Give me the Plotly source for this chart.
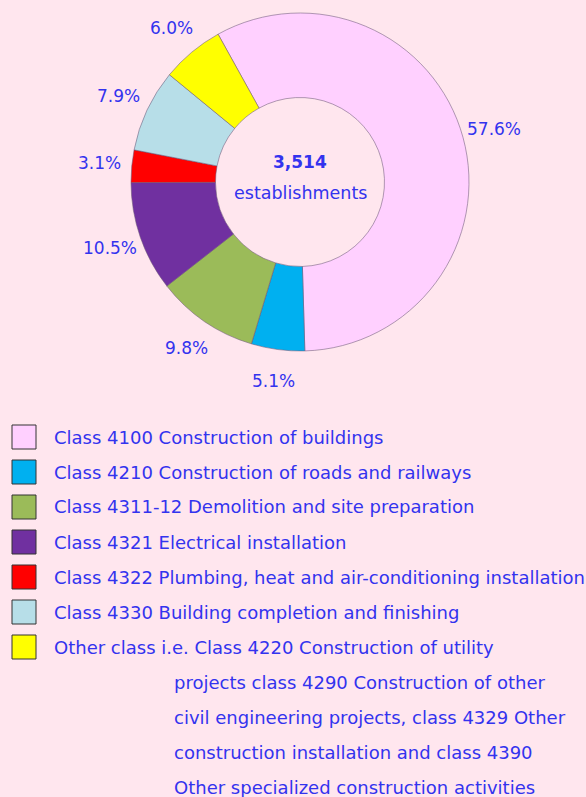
import math
import plotly.graph_objects as go

categories = [
    "Class 4100 Construction of buildings",
    "Class 4210 Construction of roads and railways",
    "Class 4311-12 Demolition and site preparation",
    "Class 4321 Electrical installation",
    "Class 4322 Plumbing, heat and air-conditioning installation",
    "Class 4330 Building completion and finishing",
    "Other class",
]
shares = [57.6, 5.1, 9.8, 10.5, 3.1, 7.9, 6.0]
colors = ["#FFD0FF", "#00B0F0", "#9BBB59", "#7030A0", "#FF0000", "#B7DEE8", "#FFFF00"]
total_text = ["3,514", "establishments"]
legend_lines = [
    ["Class 4100 Construction of buildings"],
    ["Class 4210 Construction of roads and railways"],
    ["Class 4311-12 Demolition and site preparation"],
    ["Class 4321 Electrical installation"],
    ["Class 4322 Plumbing, heat and air-conditioning installation"],
    ["Class 4330 Building completion and finishing"],
    ["Other class i.e. Class 4220 Construction of utility",
     "projects class 4290 Construction of other",
     "civil engineering projects, class 4329 Other",
     "construction installation and class 4390",
     "Other specialized construction activities"],
]

W, H = 586, 797
BG = "#FFE6EE"
TXT = "#3333EE"
FONT = "DejaVu Sans"
ROT = -29
CX, CY, R = 300, 182, 169

fig = go.Figure()
fig.add_trace(go.Pie(
    labels=categories,
    values=shares,
    hole=0.5,
    sort=False,
    direction="clockwise",
    rotation=ROT,
    marker=dict(colors=colors, line=dict(color="rgba(110,90,120,0.55)", width=1)),
    textinfo="none",
    showlegend=False,
    hoverinfo="label+value",
    domain=dict(x=[(CX - R) / W, (CX + R) / W], y=[1 - (CY + R) / H, 1 - (CY - R) / H]),
))

ann = []
# percentage labels placed radially outside each slice
total = sum(shares)
cum = 0.0
for v in shares:
    mid = ROT + (cum + v / 2) / total * 360.0
    cum += v
    a = math.radians(mid)
    rr = R + 32
    x = CX + rr * math.sin(a)
    y = CY - rr * math.cos(a)
    ann.append(dict(x=x / W, y=1 - y / H, xref="paper", yref="paper",
                    text=f"{v:.1f}%", showarrow=False, xanchor="center", yanchor="middle",
                    font=dict(color=TXT, size=17, family=FONT)))

ann.append(dict(x=CX / W, y=1 - 162 / H, xref="paper", yref="paper",
                text="<b>" + total_text[0] + "</b>", showarrow=False,
                xanchor="center", yanchor="middle",
                font=dict(color=TXT, size=17, family=FONT)))
ann.append(dict(x=CX / W, y=1 - 193 / H, xref="paper", yref="paper",
                text=total_text[1], showarrow=False,
                xanchor="center", yanchor="middle",
                font=dict(color=TXT, size=17.5, family=FONT)))

shapes = []
row_y0 = 437
row_step = 35.0
row = 0
for i, lines in enumerate(legend_lines):
    yc = row_y0 + row * row_step
    shapes.append(dict(type="rect", xref="paper", yref="paper",
                       x0=12 / W, x1=36 / W, y0=1 - (yc - 12) / H, y1=1 - (yc + 12) / H,
                       fillcolor=colors[i], line=dict(color="#333333", width=1)))
    for j, ln in enumerate(lines):
        y = row_y0 + (row + j) * row_step
        xpos = 52 if j == 0 else 172
        ann.append(dict(x=xpos / W, y=1 - y / H, xref="paper", yref="paper",
                        text=ln, showarrow=False, xanchor="left", yanchor="middle",
                        font=dict(color=TXT, size=18, family=FONT)))
    row += len(lines)

fig.update_layout(
    width=W, height=H,
    margin=dict(l=0, r=0, t=0, b=0),
    paper_bgcolor=BG, plot_bgcolor=BG,
    annotations=ann, shapes=shapes,
)
fig.write_html("out.html", config={"displayModeBar": False},
               post_script="document.body.style.margin='0';document.body.style.background='" + BG + "';")
